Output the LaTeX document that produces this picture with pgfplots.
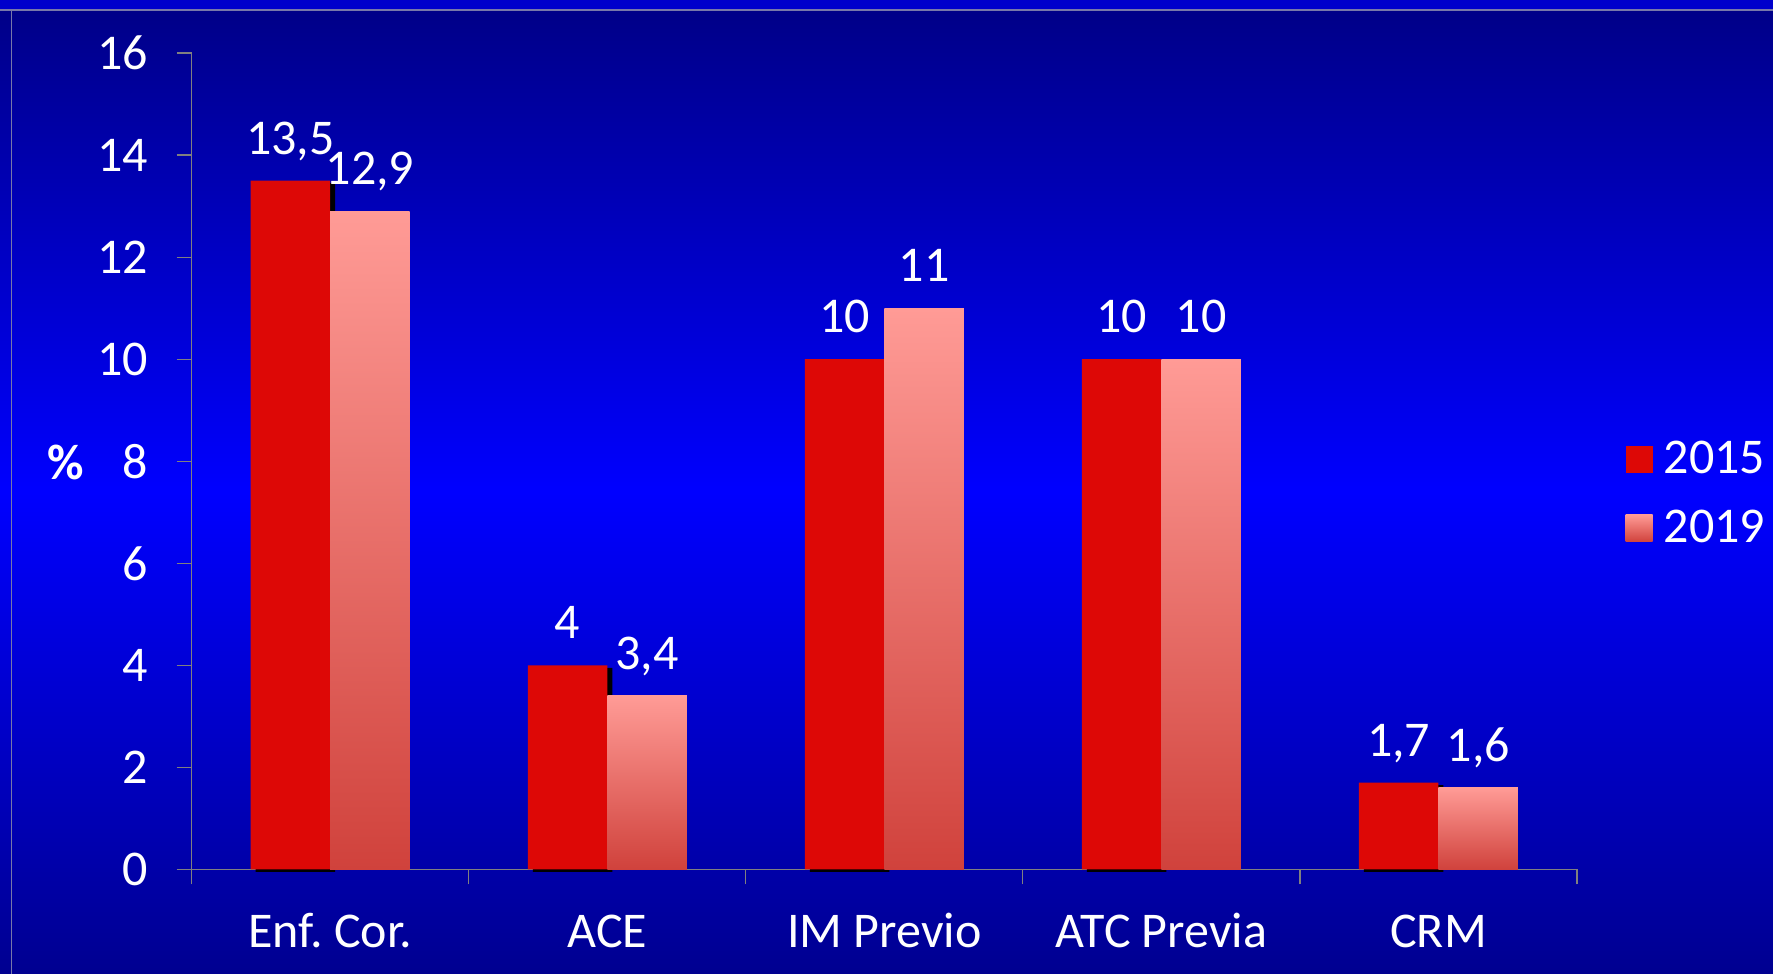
\documentclass[border=0pt]{standalone}
\usepackage{pgfplots}
\pgfplotsset{compat=1.18}
\usepackage{fontspec}
\setmainfont{Carlito}

\definecolor{bgdark}{RGB}{0,0,136}
\definecolor{bgbright}{RGB}{0,0,255}
\definecolor{bgbottom}{RGB}{0,0,144}
\definecolor{titlestrip}{RGB}{0,0,204}
\definecolor{framegrey}{RGB}{120,120,170}
\definecolor{axisgrey}{RGB}{128,128,128}
\definecolor{red2015}{RGB}{221,8,6}
\definecolor{pinktop}{RGB}{255,155,150}
\definecolor{pinkbot}{RGB}{208,66,60}

\newcommand{\chartfont}{\fontsize{25}{30}\selectfont}

\begin{document}
\frenchspacing
\begin{tikzpicture}[x=1pt,y=1pt]
% slide background
\shade[top color=bgdark, bottom color=bgbottom, middle color=bgbright] (0,0) rectangle (886.5,482);
\fill[titlestrip] (0,482) rectangle (886.5,487);
\draw[framegrey, line width=0.8pt] (0,482) -- (886.5,482);
\draw[framegrey, line width=0.6pt] (5.85,0) -- (5.85,482);

\begin{axis}[
  at={(95.85pt,52.25pt)}, anchor=south west,
  scale only axis, width=692.65pt, height=408.25pt,
  xmin=-0.5, xmax=4.5, ymin=0, ymax=16,
  ybar, bar width=0.287,
  clip=false,
  axis lines*=left,
  axis line style={draw=axisgrey, line width=0.6pt, -},
  tick style={draw=axisgrey, line width=0.6pt},
  tick align=outside, major tick length=7.5pt,
  ytick={0,2,...,16},
  xtick={-0.5,0.5,1.5,2.5,3.5,4.5},
  x tick label as interval,
  xticklabels={Enf. Cor., ACE, IM Previo, ATC Previa, CRM},
  font=\chartfont,
  tick label style={text=white, inner sep=0pt},
  yticklabel style={anchor=east, xshift=-14pt},
  xticklabel style={anchor=south, text depth=0pt, yshift=-31.75pt},
  /pgf/number format/use comma,
  /pgf/number format/assume math mode=true,
  ylabel={\bfseries\%},
  every axis y label/.style={at={(axis description cs:-0.0907,0.498)}, anchor=center, text=white},
  every node near coord/.append style={text=white, inner sep=0pt, text depth=0pt, yshift=13pt},
  legend image code/.code={\path[#1] (0pt,-6.85pt) rectangle (13.5pt,6.65pt);},
  legend style={at={(axis description cs:1.0305,0.4605)}, anchor=west,
    draw=none, fill=none, text=white, font=\chartfont, row sep=12.9pt,
    /tikz/every odd column/.style={column sep=3.5pt}},
  legend cell align=left,
  pinkbar/.style={draw=none, top color=pinktop, bottom color=pinkbot, bar shift=0.1435, nodes near coords},
]
% drop shadow behind the 2015 bars
\addplot[forget plot, fill=black, draw=none, bar shift=-0.1255, yshift=-1.25pt]
  coordinates {(0,13.5) (1,4) (2,10) (3,10) (4,1.7)};
% 2015
\addplot[fill=red2015, draw=none, bar shift=-0.1435, nodes near coords]
  coordinates {(0,13.5) (1,4) (2,10) (3,10) (4,1.7)};
% 2019, one plot per bar so each bar carries its own gradient
\addplot[pinkbar] coordinates {(0,12.9)};
\addplot[pinkbar, forget plot] coordinates {(1,3.4)};
\addplot[pinkbar, forget plot] coordinates {(2,11)};
\addplot[pinkbar, forget plot] coordinates {(3,10)};
\addplot[pinkbar, forget plot] coordinates {(4,1.6)};
\legend{2015, 2019}
\end{axis}
\pgfresetboundingbox
\useasboundingbox (0,0) rectangle (886.5,487);
\end{tikzpicture}
\end{document}
